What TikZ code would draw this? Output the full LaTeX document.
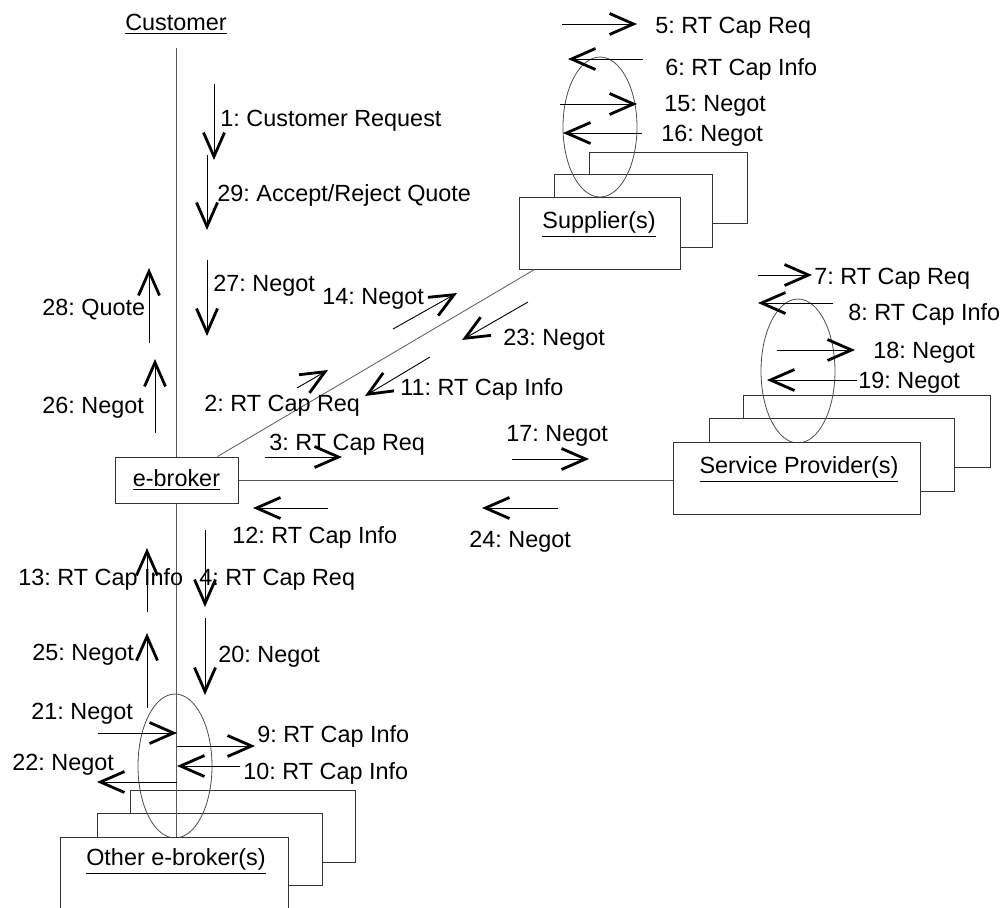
\documentclass[tikz,border=0pt]{standalone}
\usepackage{fontspec}
\setmainfont{Liberation Sans}
\frenchspacing
\usetikzlibrary{arrows.meta,positioning,shapes.geometric}
\newcommand{\px}{0.5pt}

\begin{document}
\begin{tikzpicture}[x=\px, y=-\px, font=\fontsize{11.7}{14}\selectfont,
    link/.style={draw=black!65, line width=0.4pt},
    objbox/.style={rectangle, draw=black!80, fill=white, line width=0.5pt, inner sep=0pt},
    roundtrip/.style={ellipse, draw=black!70, line width=0.4pt, inner sep=0pt,
                      minimum width=74*\px},
    msg/.style={line width=0.45pt, -{Straight Barb[length=12pt,width=10.5pt,line width=1.4pt]}},
    lbl/.style={inner sep=0pt, text height=8.4pt, text depth=0pt, anchor=west}]
  \useasboundingbox (0,0) rectangle (1008,907);
  \clip (0,0) rectangle (1008,907);

  % stacked object boxes behind
  \node[objbox, minimum width=158*\px, minimum height=71*\px] (sup3) at (668,187.5) {};
  \node[objbox, minimum width=158*\px, minimum height=73*\px] (sup2) at (633,210.5) {};
  \node[objbox, minimum width=247*\px, minimum height=72*\px] (sp3) at (866.5,431) {};
  \node[objbox, minimum width=245*\px, minimum height=73*\px] (sp2) at (831.5,454.5) {};
  \node[objbox, minimum width=225*\px, minimum height=72*\px] (oeb3) at (242.5,826) {};
  \node[objbox, minimum width=225*\px, minimum height=72*\px] (oeb2) at (209.5,849) {};

  % self loops
  \node[roundtrip, minimum height=140*\px] (supell) at (600,127) {};
  \node[roundtrip, minimum height=144*\px] (spell) at (798,371) {};
  \node[roundtrip, minimum height=144*\px] (oebell) at (175,766) {};

  % front boxes
  \node[objbox, minimum width=161*\px, minimum height=72*\px] (sup) at (599.5,233) {};
  \node[lbl, anchor=center] at (599,220) {\underline{Supplier(s)}};
  \node[objbox, minimum width=247*\px, minimum height=72*\px] (sp) at (796.5,478) {};
  \node[lbl, anchor=center] at (799,465) {\underline{Service Provider(s)}};
  \node[objbox, minimum width=228*\px, minimum height=72*\px] (oeb) at (174,873) {};
  \node[lbl, anchor=center] at (176,857) {\underline{Other e-broker(s)}};
  \node[objbox, minimum width=123*\px, minimum height=46*\px] (eb) at (176.5,480)
    {\underline{e-broker}};
  \node[lbl, anchor=center] (cust) at (176,22) {\underline{Customer}};

  % links
  \draw[link] ([yshift=-17*\px]cust.south -| eb.north) -- (eb.north);
  \draw[link] (eb.south) -- (eb.south |- oeb.north);
  \draw[link] ([xshift=-21*\px]eb.north east) -- ([xshift=16*\px]sup.south west);
  \draw[link] (eb.east) -- (eb.east -| sp.west);

  % messages
  \foreach \n/\xa/\ya/\xb/\yb in {m1/214/84/214/160, m29/207/155/207/230,
      m27/207/260/207/336, m28/149/343/149/268, m26/155/433/155/359,
      m14/393/329/457/293, m23/528/302/462/340, m2/297/388/328/370,
      m11/430/357/365/396, m3/265/457/342/457, m17/512/459/589/459,
      m12/328/508/253/508, m24/558/508/482/508, m13/147/612/147/548,
      m4/205/530/205/607, m25/147/708/147/633, m20/205/618/205/695,
      m21/98/733/177/733, m9/177/746/255/746, m10/240/766/177/766,
      m22/177/782/97/782, m5/562/24/637/24, m6/643/59/568/59,
      m15/560/104/637/104, m16/642/133/563/133, m7/758/275/812/275,
      m8/833/303/758/303, m18/777/350/855/350, m19/857/380/767/380}
    \draw[msg] (\xa,\ya) coordinate (\n s) -- (\xb,\yb) coordinate (\n e);

  % message labels
  \node[lbl] (l1) at (220,118) {1: Customer Request};
  \node[lbl] (l29) at (217,193) {29: Accept/Reject Quote};
  \node[lbl] (l27) at (213,283) {27: Negot};
  \node[lbl] (l14) at (322,296) {14: Negot};
  \node[lbl] (l28) at (42,307) {28: Quote};
  \node[lbl] (l26) at (42,405) {26: Negot};
  \node[lbl] (l2) at (204,403) {2: RT Cap Req};
  \node[lbl] (l11) at (400,387) {11: RT Cap Info};
  \node[lbl] (l23) at (503,337) {23: Negot};
  \node[lbl] (l3) at (269,442) {3: RT Cap Req};
  \node[lbl] (l17) at (506,433) {17: Negot};
  \node[lbl] (l12) at (232,535) {12: RT Cap Info};
  \node[lbl] (l24) at (469,539) {24: Negot};
  \node[lbl] (l13) at (18,577) {13: RT Cap Info};
  \node[lbl] (l4) at (199,577) {4: RT Cap Req};
  \node[lbl] (l25) at (32,652) {25: Negot};
  \node[lbl] (l20) at (218,654) {20: Negot};
  \node[lbl] (l21) at (31,711) {21: Negot};
  \node[lbl] (l9) at (257,734) {9: RT Cap Info};
  \node[lbl] (l22) at (12,762) {22: Negot};
  \node[lbl] (l10) at (243,771) {10: RT Cap Info};
  \node[lbl] (l5) at (655,25) {5: RT Cap Req};
  \node[lbl] (l6) at (665,67) {6: RT Cap Info};
  \node[lbl] (l15) at (664,103) {15: Negot};
  \node[lbl] (l16) at (661,133) {16: Negot};
  \node[lbl] (l7) at (814,276) {7: RT Cap Req};
  \node[lbl] (l8) at (848,312) {8: RT Cap Info};
  \node[lbl] (l18) at (873,350) {18: Negot};
  \node[lbl] (l19) at (858,380) {19: Negot};
\end{tikzpicture}
\end{document}
